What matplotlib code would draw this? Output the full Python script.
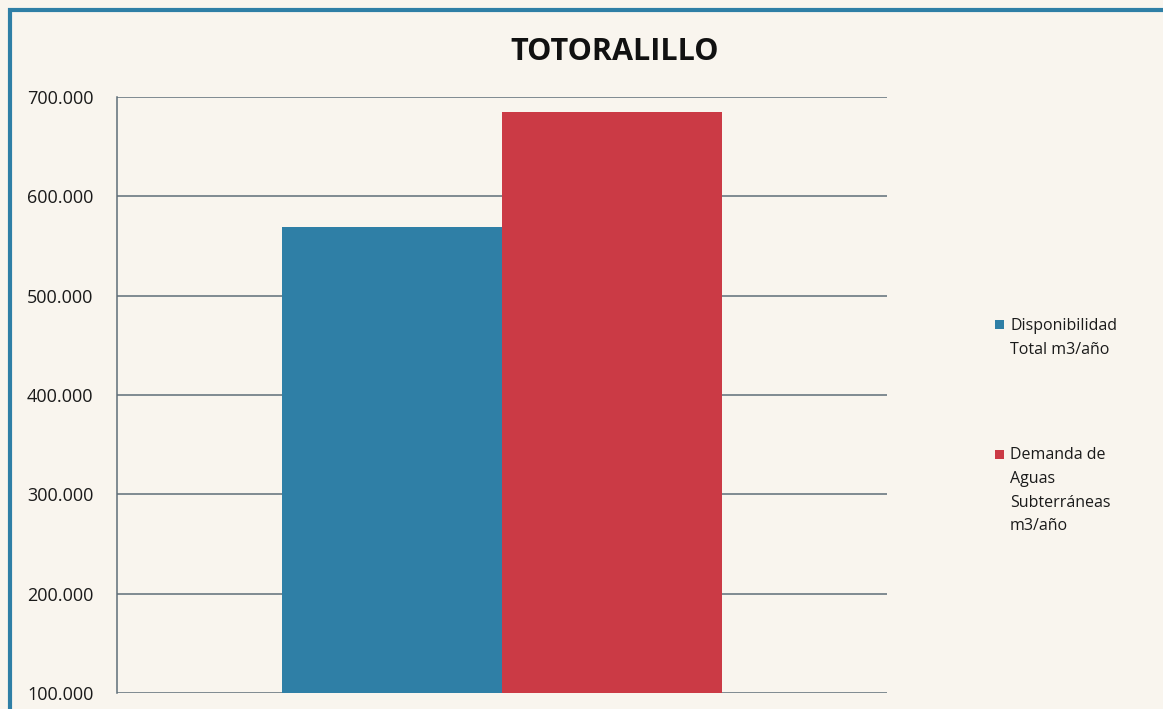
import matplotlib
matplotlib.use("Agg")
import matplotlib.pyplot as plt
from matplotlib.patches import Rectangle
from matplotlib.ticker import FuncFormatter

# Data
title = "TOTORALILLO"
series_labels = ["Disponibilidad\nTotal m3/año", "Demanda de\nAguas\nSubterráneas\nm3/año"]
series_values = [569000, 685000]
series_colors = ["#2f7fa6", "#cb3a45"]
y_ticks = [100000, 200000, 300000, 400000, 500000, 600000, 700000]

plt.rcParams['font.family'] = ['Open Sans', 'DejaVu Sans']

W, H = 1163, 709
fig = plt.figure(figsize=(W / 100, H / 100), dpi=100)
bg = "#f9f5ee"
fig.patch.set_facecolor(bg)

ax = fig.add_axes([117 / W, 1 - 693 / H, (887 - 117) / W, (693 - 97) / H])
ax.set_facecolor("none")

bar_w = 220 / 770
offsets = [-bar_w / 2, bar_w / 2]
for off, v, c in zip(offsets, series_values, series_colors):
    ax.bar(off, v - y_ticks[0], bottom=y_ticks[0], width=bar_w, color=c, zorder=3)

ax.set_xlim(-0.5, 0.5)
ax.set_ylim(y_ticks[0], y_ticks[-1])
ax.set_yticks(y_ticks)
ax.yaxis.set_major_formatter(FuncFormatter(lambda v, p: f"{int(v):,}".replace(",", ".")))
ax.set_xticks([])
grid_c = "#5f6e78"
ax.grid(axis='y', color=grid_c, linewidth=1.1, zorder=1)
for s in ["top", "right", "bottom"]:
    ax.spines[s].set_visible(False)
ax.spines["left"].set_color(grid_c)
ax.spines["left"].set_linewidth(1.1)
ax.tick_params(axis='y', length=0, pad=17, labelsize=13, labelcolor="#1a1a1a")

# Title
fig.text(615 / W, 1 - 60 / H, title, ha="center", va="baseline",
         fontsize=22, fontweight="bold", color="#111111")

# Legend (manual)
leg_entries = [(324, 318), (454, 447)]
for (sq_y, txt_top), lab, c in zip(leg_entries, series_labels, series_colors):
    fig.patches.append(Rectangle((995 / W, 1 - (sq_y + 4.5) / H), 9 / W, 9 / H,
                                 transform=fig.transFigure, facecolor=c, edgecolor="none"))
    fig.text(1010 / W, 1 - txt_top / H, lab, ha="left", va="top",
             fontsize=11.5, color="#1a1a1a", linespacing=1.65)

# Border
fig.patches.append(Rectangle((10 / W, -0.2), 1.5, 1.2 - 10 / H, transform=fig.transFigure,
                             facecolor="none", edgecolor="#2f7fa6", linewidth=3))

fig.savefig("out.png", dpi=100, facecolor=bg)
